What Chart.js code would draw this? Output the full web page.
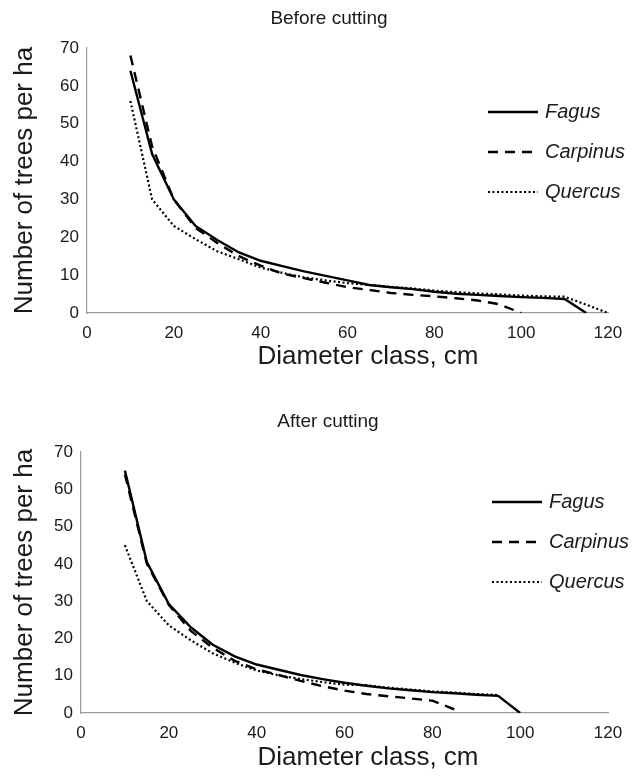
<!DOCTYPE html>
<html>
<head>
<meta charset="utf-8">
<script src="https://cdn.jsdelivr.net/npm/chart.js@4.4.1/dist/chart.umd.min.js"></script>
<style>
  html, body { margin: 0; padding: 0; background: #fff; }
  #wrap { position: relative; width: 641px; height: 777px; }
  canvas { position: absolute; left: 0; }
</style>
</head>
<body>
<div id="wrap">
  <canvas id="before" width="641" height="390" style="top:0"></canvas>
  <canvas id="after" width="641" height="387" style="top:390px"></canvas>
</div>
<script>
// diameter classes, cm
const diameters = [10,15,20,25,30,35,40,45,50,55,60,65,70,75,80,85,90,95,100,105,110,115,120];
const species = ['Fagus', 'Carpinus', 'Quercus'];
const yTicks = [0,10,20,30,40,50,60,70];
const xTicks = [0,20,40,60,80,100,120];

// trees per ha, before cutting
const beforeFagus    = [64,42,30,23,19.3,16,13.8,12.4,11,9.8,8.6,7.4,6.8,6.3,5.6,5.1,4.8,4.5,4.2,4.0,3.7,0,null];
const beforeCarpinus = [68,44,30,22.5,18.5,15,12.5,10.4,9.2,8.0,6.8,6.1,5.3,4.8,4.4,3.9,3.3,2.3,0,null,null,null,null];
const beforeQuercus  = [56,30,23,19.5,16.3,14.2,12,10.6,9.4,8.6,7.9,7.4,6.9,6.5,5.9,5.5,5.2,4.9,4.6,4.4,4.3,2.2,0];

// trees per ha, after cutting
const afterFagus    = [65,40.5,29.2,23,18.3,15.2,13,11.6,10.2,9.1,8.1,7.3,6.6,6.1,5.6,5.3,4.9,4.6,0,null,null,null,null];
const afterCarpinus = [64,40,29,22,17.5,14,11.7,10.2,8.6,7.2,6.0,5.1,4.5,3.9,3.3,1.0,null,null,null,null,null,null,null];
const afterQuercus  = [45,30,23.5,19.5,16,13.5,11.4,10.1,9.1,8.3,7.6,7.45,6.8,6.3,5.8,5.45,5.1,4.8,null,null,null,null,null];

const FONT = '"Liberation Sans", Arial, Helvetica, sans-serif';
const INK = '#1a1a1a';
const styles = [
  { borderDash: [], borderWidth: 2.4 },
  { borderDash: [10, 7], borderWidth: 2.4 },
  { borderDash: [2, 2.5], borderWidth: 2.2 }
];

function points(vals) {
  return vals.map((v, i) => ({ x: diameters[i], y: v }));
}

// chart title, x title and the legend at the right
const extras = {
  id: 'extras',
  afterDraw(chart, args, o) {
    const ctx = chart.ctx;
    ctx.save();
    ctx.fillStyle = INK;
    ctx.textBaseline = 'middle';
    ctx.textAlign = 'center';
    ctx.font = '19px ' + FONT;
    ctx.fillText(o.title, o.titleX, o.titleY);
    ctx.font = '26px ' + FONT;
    ctx.fillText('Diameter class, cm', o.xTitleX, o.xTitleY);

    ctx.textAlign = 'left';
    ctx.font = 'italic 20px ' + FONT;
    chart.data.datasets.forEach((ds, i) => {
      const y = o.legendY + i * o.legendGap;
      ctx.beginPath();
      ctx.setLineDash(ds.borderDash);
      ctx.lineWidth = ds.borderWidth;
      ctx.strokeStyle = ds.borderColor;
      ctx.moveTo(o.legendX, y);
      ctx.lineTo(o.legendX + 50, y);
      ctx.stroke();
      ctx.setLineDash([]);
      ctx.fillText(ds.label, o.legendX + 57, y);
    });
    ctx.restore();
  }
};

function makeChart(id, series, o) {
  return new Chart(document.getElementById(id), {
    type: 'line',
    data: {
      datasets: series.map((vals, i) => ({
        label: species[i],
        data: points(vals),
        borderColor: '#000',
        borderWidth: styles[i].borderWidth,
        borderDash: styles[i].borderDash,
        pointRadius: 0,
        tension: 0,
        fill: false
      }))
    },
    options: {
      responsive: false,
      animation: false,
      layout: { padding: { top: o.top, right: o.right, left: 0, bottom: 0 } },
      plugins: { legend: { display: false }, tooltip: { enabled: false }, extras: o },
      scales: {
        x: {
          type: 'linear', min: 0, max: 120,
          afterBuildTicks: s => { s.ticks = xTicks.map(v => ({ value: v })); },
          afterFit: s => { s.height = o.xHeight; },
          grid: { display: false, drawTicks: false },
          border: { display: true, color: '#9a9a9a', width: 1.2 },
          ticks: { color: INK, font: { family: FONT, size: 17 }, padding: 10, maxRotation: 0 }
        },
        y: {
          min: 0, max: 70,
          afterBuildTicks: s => { s.ticks = yTicks.map(v => ({ value: v })); },
          afterFit: s => { s.width = o.yWidth; },
          grid: { display: false, drawTicks: false },
          border: { display: true, color: '#9a9a9a', width: 1.2 },
          ticks: { color: INK, font: { family: FONT, size: 17 }, padding: 8 },
          title: {
            display: true, text: 'Number of trees per ha', color: INK,
            font: { family: FONT, size: 26 }, padding: { top: 9, bottom: 0 }
          }
        }
      }
    },
    plugins: [extras]
  });
}

makeChart('before', [beforeFagus, beforeCarpinus, beforeQuercus], {
  top: 48, right: 33, xHeight: 77, yWidth: 87,
  title: 'Before cutting', titleX: 329, titleY: 19,
  xTitleX: 368, xTitleY: 357,
  legendX: 488, legendY: 112, legendGap: 40
});

makeChart('after', [afterFagus, afterCarpinus, afterQuercus], {
  top: 62, right: 33, xHeight: 64, yWidth: 81,
  title: 'After cutting', titleX: 328, titleY: 32,
  xTitleX: 368, xTitleY: 368,
  legendX: 492, legendY: 112, legendGap: 40
});
</script>
</body>
</html>
